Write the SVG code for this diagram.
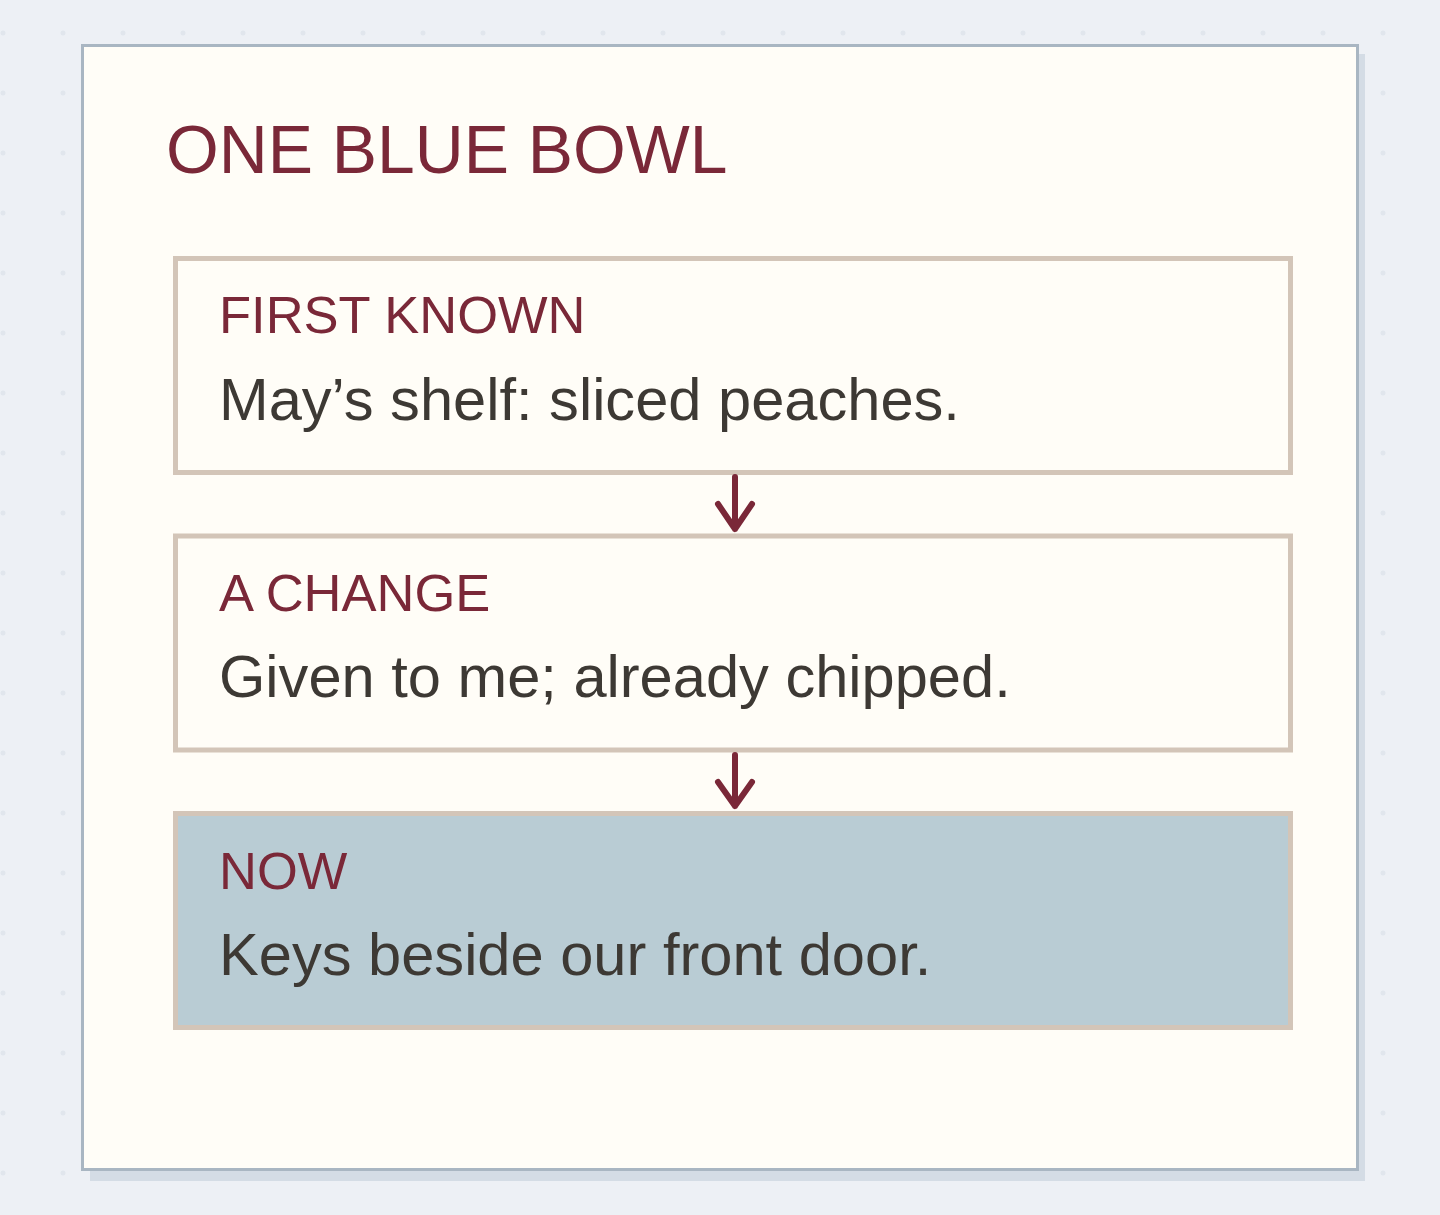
<svg xmlns="http://www.w3.org/2000/svg" width="1440" height="1215" viewBox="0 0 1440 1215">
  <style>
    .box { stroke: #d3c5b8; stroke-width: 5; }
    .head { font-family: "Liberation Sans", Arial, sans-serif; font-size: 52.5px; fill: #7a2838; }
    .body { font-family: "Liberation Sans", Arial, sans-serif; font-size: 59.6px; fill: #3d3934; }
    .conn { stroke: #7a2838; stroke-width: 6; stroke-linecap: round; stroke-linejoin: round; fill: none; }
  </style>
  <defs>
    <pattern id="dots" x="3" y="33" width="60" height="60" patternUnits="userSpaceOnUse">
      <circle cx="0" cy="0" r="2.5" fill="#e1e6ed"/>
      <circle cx="60" cy="0" r="2.5" fill="#e1e6ed"/>
      <circle cx="0" cy="60" r="2.5" fill="#e1e6ed"/>
      <circle cx="60" cy="60" r="2.5" fill="#e1e6ed"/>
    </pattern>
  </defs>
  <rect width="1440" height="1215" fill="#edf0f5"/>
  <rect width="1440" height="1215" fill="url(#dots)"/>
  <g id="card">
    <rect x="90" y="54" width="1275" height="1127" fill="#d4dce5"/>
    <rect x="82.5" y="45.5" width="1275" height="1124" fill="#fffdf7" stroke="#a9b6c2" stroke-width="3"/>
    <text x="166" y="173" font-family="Liberation Sans, Arial, sans-serif" font-size="67.8" fill="#7a2838">ONE BLUE BOWL</text>
  </g>
  <g id="first-known">
    <rect class="box" x="175.5" y="258.5" width="1115" height="214" fill="#fffdf7"/>
    <text class="head" x="219" y="333">FIRST KNOWN</text>
    <text class="body" x="219" y="420">May’s shelf: sliced peaches.</text>
  </g>
  <g id="a-change">
    <rect class="box" x="175.5" y="536" width="1115" height="214" fill="#fffdf7"/>
    <text class="head" x="219" y="611">A CHANGE</text>
    <text class="body" x="219" y="697">Given to me; already chipped.</text>
  </g>
  <g id="now">
    <rect class="box" x="175.5" y="813.5" width="1115" height="214" fill="#b9ccd4"/>
    <text class="head" x="219" y="889">NOW</text>
    <text class="body" x="219" y="975">Keys beside our front door.</text>
  </g>
  <g id="connectors">
    <path class="conn" d="M735 477 V529 M718 504 L735 529 L752 504"/>
    <path class="conn" d="M735 755 V806 M718 782 L735 806 L752 782"/>
  </g>
</svg>
